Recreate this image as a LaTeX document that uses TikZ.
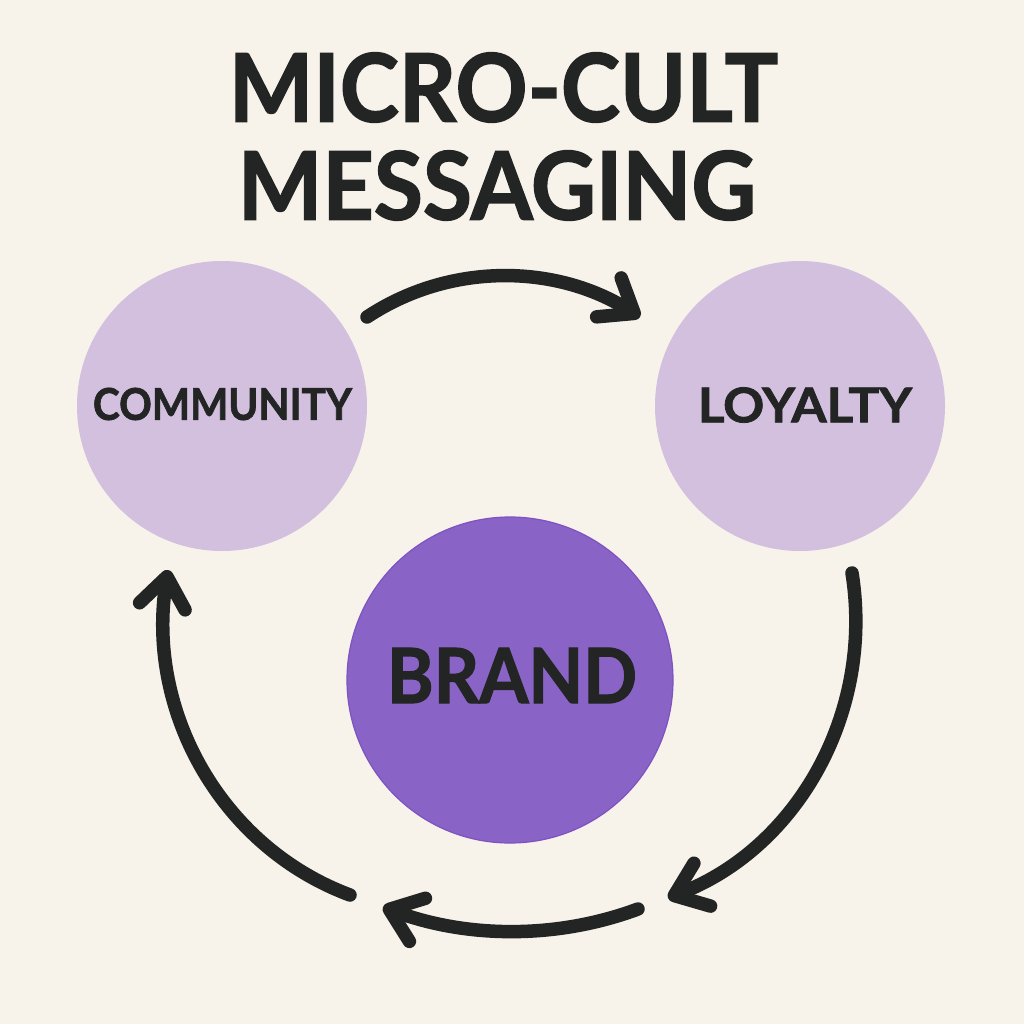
\documentclass[tikz,border=0pt]{standalone}
\usepackage{fontspec}
\usepackage{graphicx}
\setmainfont{Lato}[BoldFeatures={FakeBold=1.6}]
\usetikzlibrary{arrows.meta}
\definecolor{bg}{HTML}{F7F2EA}
\definecolor{lilac}{HTML}{D3BFDE}
\definecolor{purp}{HTML}{8A63C6}
\definecolor{purpedge}{HTML}{7D52C1}
\definecolor{ink}{HTML}{232524}
\tikzset{
  bubble/.style={circle, fill=lilac, draw=none, inner sep=0pt},
  core/.style={circle, fill=purp, draw=purpedge, line width=1.2pt, inner sep=0pt},
  label/.style={inner sep=0pt, text=ink, font=\bfseries},
  flow/.style={draw=ink, line width=13.5pt, line cap=round,
    -{Straight Barb[length=30pt, width=46pt, round]}}
}
\begin{document}
\begin{tikzpicture}[x=1pt, y=-1pt]
\fill[bg] (0,0) rectangle (1024,1024);
\useasboundingbox (0,0) rectangle (1024,1024);
% title
\node[label] (t1) at (503.5,87.5) {\resizebox{549pt}{69pt}{MICRO-CULT}};
\node[label] (t2) at (497,185.5) {\resizebox{518pt}{69pt}{MESSAGING}};
% circles
\node[bubble, minimum size=290pt] (comm) at (222,406) {};
\node[bubble, minimum size=290pt] (loy) at (800,406) {};
\node[core, minimum size=326pt] (brand) at (510,680) {};
\node[label] (lc) at (222.5,404) {\resizebox{259pt}{32pt}{COMMUNITY}};
\node[label] (ll) at (805,405) {\resizebox{214pt}{35pt}{LOYALTY}};
\node[label] (lb) at (512,675.5) {\resizebox{250pt}{55pt}{BRAND}};
% arrow end points
\coordinate (a1s) at (367,317);
\coordinate (a1e) at (640,317);
\coordinate (a2s) at (852,573);
\coordinate (a2e) at (668,898);
\coordinate (a3s) at (638,909);
\coordinate (a3e) at (383,907);
\coordinate (a4s) at (350,895);
\coordinate (a4e) at (168,570);
% arrows
\draw[flow] (a1s) .. controls (450,262) and (556,264) .. (a1e);
\draw[flow] (a2s) .. controls (874,711) and (799,847) .. (a2e);
\draw[flow] (a3s) .. controls (555.5,939.7) and (465.5,937.7) .. (a3e);
\draw[flow] (a4s) .. controls (221,847) and (146,711) .. (a4e);
\end{tikzpicture}
\end{document}
